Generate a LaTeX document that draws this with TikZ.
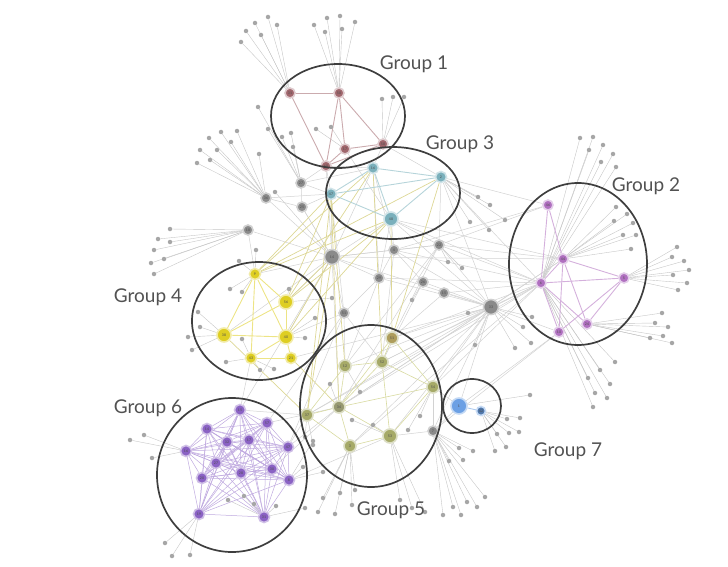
\documentclass[tikz,border=0pt]{standalone}
\usepackage{fontspec}
\setsansfont{Lato}
\usetikzlibrary{backgrounds}

\definecolor{rimDark}{RGB}{62,62,62}
\definecolor{grpOne}{RGB}{160,102,108}
\definecolor{grpTwo}{RGB}{176,112,192}
\definecolor{grpThree}{RGB}{122,176,188}
\definecolor{grpFour}{RGB}{222,206,34}
\definecolor{grpFive}{RGB}{166,170,104}
\definecolor{grpSix}{RGB}{138,98,196}
\definecolor{grpSeven}{RGB}{108,160,228}
\definecolor{hubGray}{RGB}{138,138,138}

\newcommand\leaflist{246/31/g1a, 255/23/g1a, 268/17/g1a, 277/25/g1a, 261/35/g1a, 241/42/g1a,
  314/25/g1b, 327/18/g1b, 340/16/g1b, 355/22/g1b, 325/32/g1b, 342/29/g1b,
  382/99/g1c, 393/97/g1c, 404/97/g1c, 316/129/g1d, 331/127/g1d,
  258/107/h27, 268/129/h27, 282/137/h27, 291/133/h27, 293/147/h27,
  209/138/h26, 221/132/h26, 237/131/h26, 231/142/h26, 200/150/h26, 217/150/h26, 197/163/h26, 210/160/h26, 259/154/h26, 275/192/h14,
  170/229/h18, 158/239/h18, 170/242/h18, 154/250/h18, 164/259/h18, 151/263/h18, 154/274/h18, 256/250/g4a, 239/261/g4a,
  580/138/g2c, 593/137/g2c, 589/150/g2c, 603/145/g2c, 613/154/g2c, 601/162/g2c, 616/167/g2c,
  616/207/g2b, 627/214/g2b, 614/221/g2b, 633/223/g2b, 623/235/g2b, 636/235/g2b, 631/249/g2b,
  677/247/g2d, 672/257/g2d, 684/261/g2d, 689/270/g2d, 673/275/g2d, 687/283/g2d, 678/290/g2d,
  662/313/g2e, 655/323/g2e, 668/327/g2e, 663/336/g2e, 650/338/g2e, 672/343/g2e,
  532/317/h33, 523/327/h33, 531/343/h33, 515/348/h33,
  593/407/g2c, 607/398/g2c, 595/393/g2c, 610/384/g2c, 600/370/g2c, 615/362/g2c, 588/378/g2c,
  530/395/g7a, 507/419/g7b, 520/418/g7b, 497/434/g7b, 509/433/g7b, 519/432/g7b, 506/447/g7b, 495/451/g7b,
  473/451/h7, 459/448/h7, 463/460/h7, 449/461/h7, 485/497/h7, 477/507/h7, 467/502/h7, 453/507/h7, 443/515/h7, 461/515/h7,
  323/498/g5h, 340/493/g5h, 355/490/g5h, 318/512/g5h, 335/514/g5h, 352/505/g5h, 400/500/g5g, 412/508/g5g, 425/512/g5g,
  330/384/g5e, 360/392/g5b, 352/420/g5g, 373/425/g5g, 305/437/g5f, 313/445/g5f, 420/416/g5d, 408/430/g5d,
  230/289/g4a, 242/292/g4a, 289/289/g4b, 198/312/g4c, 200/327/g4c, 188/337/g4c, 192/350/g4c, 242/339/g4e,
  315/318/g4d, 305/338/g4d, 226/362/g4e, 260/370/g4e, 274/369/g4e, 332/298/g4b,
  228/500/g6n, 244/496/g6n, 254/504/g6n, 276/506/g6n, 305/508/g6n, 165/543/g6m, 172/556/g6m, 190/555/g6m,
  130/440/g6f, 144/435/g6f, 152/458/g6f, 313/441/g6k, 323/472/g6k, 303/467/g6k,
  478/197/g3b, 490/205/g3b, 470/222/g3b, 489/230/g3b, 505/220/g3b, 448/262/h22, 462/268/h22,
  468/313/h33, 475/345/h33, 412/300/h28}

\newcommand\sixlist{g6a,g6b,g6c,g6d,g6e,g6f,g6g,g6h,g6i,g6j,g6k,g6l,g6m,g6n}

\begin{document}
\begin{tikzpicture}[
  x=1pt, y=-1pt,
  mem/.style={circle, inner sep=0pt, minimum size=10pt, line width=1.6pt, font=\fontsize{3.5}{4}\selectfont\sffamily, text=black!70},
  big/.style={minimum size=14pt},
  one/.style={mem, fill=grpOne, draw=grpOne!35},
  two/.style={mem, fill=grpTwo, draw=grpTwo!35},
  three/.style={mem, fill=grpThree, draw=grpThree!35, minimum size=11pt},
  four/.style={mem, fill=grpFour, draw=grpFour!40, minimum size=11pt},
  five/.style={mem, fill=grpFive, draw=grpFive!40, minimum size=12pt},
  six/.style={mem, fill=grpSix, draw=grpSix!40, minimum size=11pt},
  seven/.style={mem, fill=grpSeven, draw=grpSeven!40},
  hub/.style={mem, fill=hubGray, draw=hubGray!40},
  dot/.style={circle, fill=gray!70, inner sep=0pt, minimum size=4.5pt},
  leaf/.style={gray!45, line width=0.4pt},
  link/.style={gray!35, line width=0.5pt},
  tint/.style={#1!55, line width=0.6pt},
  grpRing/.style={draw=rimDark, line width=1.7pt},
  grpLabel/.style={font=\fontsize{19}{21}\selectfont\sffamily, text=black!68}
]
\useasboundingbox (0,0) rectangle (728,567);

\node[one] (g1a) at (290,93) {31};
\node[one] (g1b) at (339,93) {50};
\node[one] (g1c) at (383,144) {58};
\node[one] (g1d) at (345,149) {17};
\node[one] (g1e) at (326,166) {60};

\node[three] (g3a) at (373,168) {16};
\node[three] (g3b) at (441,177) {2};
\node[three] (g3c) at (331,194) {47};
\node[three, big] (g3d) at (391,219) {48};

\node[two] (g2a) at (548,205) {46};
\node[two] (g2b) at (563,259) {44};
\node[two] (g2c) at (541,283) {6};
\node[two] (g2d) at (624,278) {5};
\node[two] (g2e) at (587,324) {24};
\node[two] (g2f) at (559,332) {10};

\node[four] (g4a) at (255,274) {9};
\node[four, big] (g4b) at (286,302) {56};
\node[four, big] (g4c) at (224,335) {38};
\node[four, big] (g4d) at (286,337) {40};
\node[four] (g4e) at (251,358) {43};
\node[four] (g4f) at (291,358) {21};

\node[five, fill=grpFive!70!brown] (g5a) at (392,338) {51};
\node[five] (g5b) at (345,366) {12};
\node[five] (g5c) at (382,362) {52};
\node[five] (g5d) at (433,387) {54};
\node[five, fill=grpFive!60!gray] (g5e) at (339,407) {34};
\node[five] (g5f) at (307,415) {37};
\node[five, big] (g5g) at (390,436) {53};
\node[five] (g5h) at (350,446) {3};

\node[six] (g6a) at (240,410) {15};
\node[six] (g6b) at (207,429) {14};
\node[six] (g6c) at (267,423) {57};
\node[six] (g6d) at (227,442) {32};
\node[six] (g6e) at (249,440) {17};
\node[six] (g6f) at (186,451) {16};
\node[six] (g6g) at (288,447) {47};
\node[six] (g6h) at (216,463) {27};
\node[six] (g6i) at (241,473) {28};
\node[six] (g6j) at (272,469) {30};
\node[six] (g6k) at (289,480) {8};
\node[six] (g6l) at (202,478) {20};
\node[six] (g6m) at (199,514) {19};
\node[six] (g6n) at (264,517) {31};

\node[seven, minimum size=16pt] (g7a) at (459,406) {1};
\node[seven, fill=grpSeven!75!black, minimum size=9pt] (g7b) at (481,411) {42};

\node[hub] (h27) at (301,183) {27};
\node[hub] (h26) at (266,198) {36};
\node[hub] (h25) at (302,207) {25};
\node[hub] (h18) at (248,230) {18};
\node[hub, minimum size=15pt] (h14) at (332,257) {14};
\node[hub] (h4) at (394,250) {4};
\node[hub] (h22) at (439,245) {22};
\node[hub] (h29) at (379,278) {29};
\node[hub] (h28) at (423,282) {26};
\node[hub] (h15) at (444,293) {15};
\node[hub, minimum size=15pt] (h33) at (491,307) {33};
\node[hub] (h51) at (344,313) {51};
\node[hub] (h7) at (433,431) {7};

\foreach \px/\py/\h [count=\i] in \leaflist
  \node[dot] (d\i) at (\px,\py) {};

\begin{pgfonlayer}{background}
\foreach \px/\py/\h [count=\i] in \leaflist
  \draw[leaf] (d\i) -- (\h);
\foreach \a/\b in {h14/g3c, h14/g3a, h14/g3d, h14/g4a, h14/g4b, h14/h51, h14/h29, h14/h4, h14/h22, h14/h25, h14/h18, h14/g5e, h14/h33, h14/g4d, h14/g6a,
  h33/g2c, h33/g2b, h33/g2f, h33/g5d, h33/g5e, h33/g5f, h33/h4, h33/h22, h33/g7a, h33/h15, h33/g3b, h33/g3d, h33/h29, h33/h28, h33/g5a, h33/g5c,
  h22/g3b, h22/g2c, h22/h4, h22/g5a, h22/g3d, h4/g3d, h4/h29, h4/h28, h4/g5c, h4/g3a,
  h51/g5b, h51/g5c, h51/g4d, h51/h29, h27/g1e, h27/g3c, h27/h25, h26/g3c, h26/h25, h25/g3c, h18/g4a,
  g2c/g3b, g2c/h15, g2c/g5c, g2c/g5e, g2c/g3d, g2a/g3b, g1e/g3c, g1e/g3a, g1c/g3a, g1c/g3b,
  h7/g5d, h7/g7a, h7/g5g, g6a/g5f, g6a/g4e, g6g/g5f, g6g/g5e, g6c/g5e, g5d/g7a, g5e/g2b, g5f/g2c, g5b/h33,
  h22/g2b, h22/g2a, g2c/h4, g2c/h29, g2b/h14, g5a/g2c, g5e/h22, h15/g5a, h28/g5c, h29/g5b, g3d/h29, g3a/h29,
  g3c/h51, g1e/h14, g1d/g3d, h27/g3a, h25/h14, h26/h14, g4c/h14, g6c/h51, g6g/h51, h7/h33, h7/g2f, g7a/g2f,
  g5d/g2c, g5g/h33, g5h/g2c, g2a/h4, g2b/g3d, g5b/h22, g5h/h33, g4f/h33, g6j/g5e, g6k/g5g}
  \draw[link] (\a) -- (\b);
\foreach \a/\b in {g4a/g3c, g4a/g3a, g4a/g3d, g4a/g3b, g4b/g3c, g4b/g3a, g4b/h14, g4d/g3d, g5a/g3b, g5a/g3d, g5e/g3c, g5f/g3c, g5f/h14, g4c/g5f, g4f/g5e,
  g4b/g3d, g4d/h14, g5b/g3c, g5c/g3a}
  \draw[tint=grpFour!70!gray, line width=0.7pt] (\a) -- (\b);
\foreach \a/\b in {g1a/g1b, g1b/g1c, g1b/g1d, g1b/g1e, g1a/g1e, g1d/g1c, g1e/g1c, g1d/g1e}
  \draw[tint=grpOne, line width=0.9pt] (\a) -- (\b);
\foreach \a/\b in {g3a/g3b, g3a/g3c, g3a/g3d, g3b/g3c, g3b/g3d, g3c/g3d}
  \draw[tint=grpThree, line width=0.9pt] (\a) -- (\b);
\foreach \a/\b in {g2a/g2b, g2a/g2c, g2b/g2c, g2b/g2d, g2b/g2e, g2b/g2f, g2c/g2d, g2c/g2e, g2c/g2f, g2d/g2e, g2d/g2f}
  \draw[tint=grpTwo, line width=0.9pt] (\a) -- (\b);
\foreach \a/\b in {g4a/g4b, g4a/g4e, g4b/g4d, g4d/g4f, g4e/g4f, g4c/g4d, g4a/g4c, g4a/g4d, g4c/g4b, g4e/g4d}
  \draw[tint=grpFour, line width=0.9pt] (\a) -- (\b);
\foreach \a/\b in {g5a/g5c, g5b/g5c, g5b/g5e, g5c/g5e, g5e/g5f, g5e/g5g, g5e/g5h, g5g/g5h, g5c/g5d, g5e/g5d, g5f/g5h, g5b/g5f, g5a/g5e, g5d/g5g, g5a/g5d, g5c/g5g}
  \draw[tint=grpFive!80!yellow] (\a) -- (\b);
\foreach \a [count=\i] in \sixlist {
  \foreach \b [count=\j] in \sixlist {
    \ifnum\j>\i \draw[tint=grpSix, line width=0.5pt] (\a) -- (\b);\fi
  }
}
\draw[tint=grpSeven, line width=0.9pt] (g7a) -- (g7b);
\end{pgfonlayer}

\draw[grpRing] (338,116) ellipse [x radius=67, y radius=52];
\draw[grpRing] (393,193) ellipse [x radius=67, y radius=46];
\draw[grpRing] (578,264) ellipse [x radius=69, y radius=81];
\draw[grpRing] (259,321) ellipse [x radius=67, y radius=59];
\draw[grpRing] (371,406) ellipse [x radius=71, y radius=81];
\draw[grpRing] (232,475) ellipse [x radius=75, y radius=77];
\draw[grpRing] (472,406) ellipse [x radius=29, y radius=27];

\node[grpLabel] (lab1) at (414,64) {Group 1};
\node[grpLabel] (lab3) at (460,144) {Group 3};
\node[grpLabel] (lab2) at (646,186) {Group 2};
\node[grpLabel] (lab4) at (148,297) {Group 4};
\node[grpLabel] (lab6) at (148,408) {Group 6};
\node[grpLabel] (lab5) at (391,510) {Group 5};
\node[grpLabel] (lab7) at (568,451) {Group 7};
\end{tikzpicture}
\end{document}
